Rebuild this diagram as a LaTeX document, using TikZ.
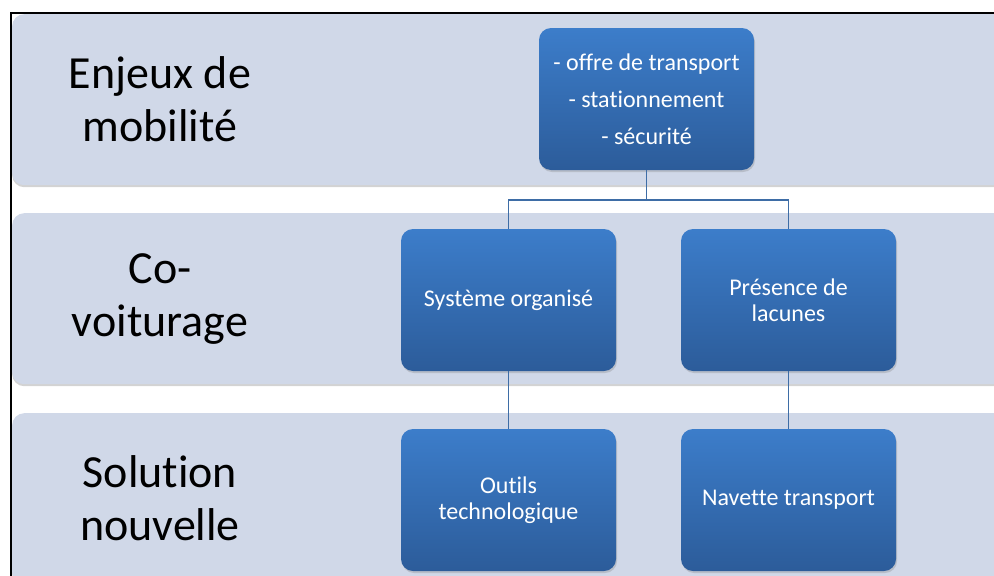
\documentclass[tikz,border=0pt]{standalone}
\usepackage{fontspec}
\setmainfont{Carlito}[Ligatures=NoCommon]
\usetikzlibrary{shadows}
\definecolor{bandfill}{HTML}{D0D8E8}
\definecolor{boxtop}{HTML}{3C7DCA}
\definecolor{boxbot}{HTML}{2C5C9A}
\definecolor{conncol}{HTML}{3E6DA6}
\tikzset{
 band/.style={rectangle, rounded corners=12pt, fill=bandfill, minimum width=1040pt, minimum height=171pt, anchor=north west, inner sep=0pt, drop shadow={opacity=0.35, shadow xshift=0pt, shadow yshift=-2pt}},
 bandlabel/.style={align=center, font=\fontsize{46}{53}\selectfont, text=black},
 stepbox/.style={rectangle, rounded corners=12pt, top color=boxtop, bottom color=boxbot, minimum width=215pt, minimum height=142pt, text=white, align=center, font=\fontsize{24}{26}\selectfont, drop shadow={opacity=0.3, shadow xshift=1pt, shadow yshift=-2pt}},
 conn/.style={draw=conncol, line width=1.5pt},
 framestyle/.style={draw=black, line width=1.5pt}
}
\begin{document}
\begin{tikzpicture}[x=1pt,y=-1pt]
\useasboundingbox (0,0) rectangle (994,576);
\clip (0,0) rectangle (994,576);
\node[band] (b1) at (12,14) {};
\node[band] (b2) at (12,213) {};
\node[band] (b3) at (12,413) {};
\node[bandlabel] (l1) at (160,99) {Enjeux de\\mobilité};
\node[bandlabel] (l2) at (160,299) {Co-\\voiturage};
\node[bandlabel] (l3) at (160,498) {Solution\\nouvelle};
\coordinate (j) at (646.5,200);
\node[stepbox] (top) at (646.5,99) {- offre de transport\\[11pt]- stationnement\\[11pt]- sécurité};
\node[stepbox] (r2a) at (508.5,300) {Système organisé};
\node[stepbox] (r2b) at (788.5,300) {Présence de\\lacunes};
\node[stepbox] (r3a) at (508.5,500) {Outils\\technologique};
\node[stepbox] (r3b) at (788.5,500) {Navette transport};
\draw[conn] (top.south) -- (j);
\draw[conn] (j) -| (r2a.north);
\draw[conn] (j) -| (r2b.north);
\draw[conn] (r2a.south) -- (r3a.north);
\draw[conn] (r2b.south) -- (r3b.north);
\coordinate (f1) at (11,580);
\coordinate (f2) at (11,13);
\coordinate (f3) at (1000,13);
\draw[framestyle] (f1) -- (f2) -- (f3);
\end{tikzpicture}
\end{document}
